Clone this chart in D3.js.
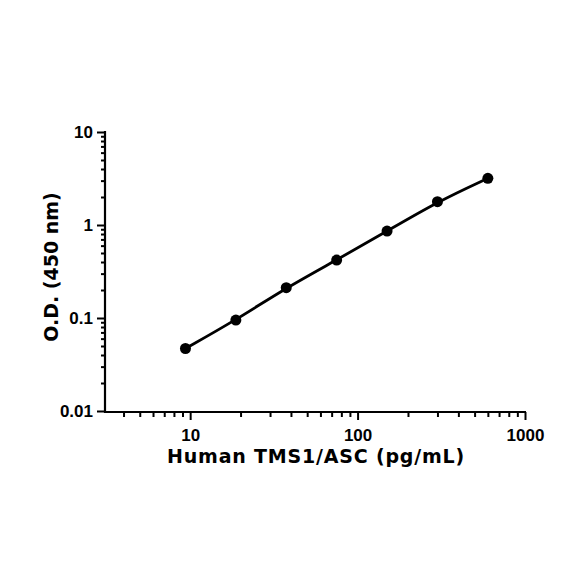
<!DOCTYPE html>
<html><head><meta charset="utf-8">
<script src="https://cdn.jsdelivr.net/npm/d3@7"></script>
<style>body{margin:0;background:#fff}svg{display:block}</style>
</head><body>
<script>
const concentrations = [9.375, 18.75, 37.5, 75, 150, 300, 600];
const odValues = [0.047, 0.095, 0.212, 0.42, 0.86, 1.78, 3.18];
const xTickValues = [10, 100, 1000];
const yTickValues = [0.01, 0.1, 1, 10];
const xTitle = "Human TMS1/ASC (pg/mL)";
const yTitle = "O.D. (450 nm)";

const W = 584, H = 584;
const svg = d3.select("body").append("svg").attr("width", W).attr("height", H);
const x = d3.scaleLog().domain([3.1, 1000]).range([105, 525]);
const y = d3.scaleLog().domain([0.01, 10]).range([411, 132]);

function minors(lo, hi) {
  const out = [];
  for (let d = lo; d < hi; d *= 10) for (let k = 2; k <= 9; k++) out.push(d * k);
  return out;
}
const xMinor = minors(1, 1000).filter(v => v >= 3.1 && v <= 1000 && !xTickValues.includes(v));
const yMinor = minors(0.01, 10).filter(v => !yTickValues.includes(v));

const tickFont = "'Liberation Sans', Arial, sans-serif";
const gx = svg.append("g").attr("transform", "translate(0,412)");
gx.call(d3.axisBottom(x).tickValues(xMinor).tickSize(5).tickFormat(""));
gx.call(g => g.append("g").call(d3.axisBottom(x).tickValues(xTickValues).tickSize(8).tickFormat(d3.format("d"))));
gx.selectAll("path.domain").remove();
gx.append("line").attr("x1", 104).attr("x2", 526).attr("stroke", "#000").attr("stroke-width", 2.2);
gx.selectAll(".tick line").attr("stroke", "#000").attr("stroke-width", 2);
gx.selectAll(".tick text").attr("font-family", tickFont).attr("font-weight", "bold")
  .attr("font-size", 17).attr("fill", "#000").attr("y", 17).attr("dy", "0.71em");

const gy = svg.append("g").attr("transform", "translate(105,0)");
gy.call(d3.axisLeft(y).tickValues(yMinor).tickSize(4).tickFormat(""));
gy.call(g => g.append("g").call(d3.axisLeft(y).tickValues(yTickValues).tickSize(8).tickFormat(d => d3.format("~g")(d))));
gy.selectAll("path.domain").remove();
gy.append("line").attr("y1", 131).attr("y2", 413).attr("stroke", "#000").attr("stroke-width", 2.2);
gy.selectAll(".tick line").attr("stroke", "#000").attr("stroke-width", 2);
gy.selectAll(".tick text").attr("font-family", tickFont).attr("font-weight", "bold")
  .attr("font-size", 17).attr("fill", "#000").attr("x", -12);

const data = concentrations.map((c, i) => ({c, v: odValues[i]}));
svg.append("path").datum(data)
  .attr("d", d3.line().x(d => x(d.c)).y(d => y(d.v)).curve(d3.curveBasis))
  .attr("fill", "none").attr("stroke", "#000").attr("stroke-width", 2.8);
svg.selectAll("circle.pt").data(data).join("circle").attr("class", "pt")
  .attr("cx", d => x(d.c)).attr("cy", d => y(d.v)).attr("r", 5.5).attr("fill", "#000");

const titleFont = "'DejaVu Sans', sans-serif";
svg.append("text").attr("x", 316).attr("y", 463).attr("text-anchor", "middle")
  .attr("font-family", titleFont).attr("font-weight", "bold").attr("font-size", 19)
  .attr("letter-spacing", "0.8px")
  .attr("fill", "#000").text(xTitle);
svg.append("text").attr("transform", "translate(58,267) rotate(-90)").attr("text-anchor", "middle")
  .attr("font-family", titleFont).attr("font-weight", "bold").attr("font-size", 19)
  .attr("fill", "#000").text(yTitle);
</script>
</body></html>
